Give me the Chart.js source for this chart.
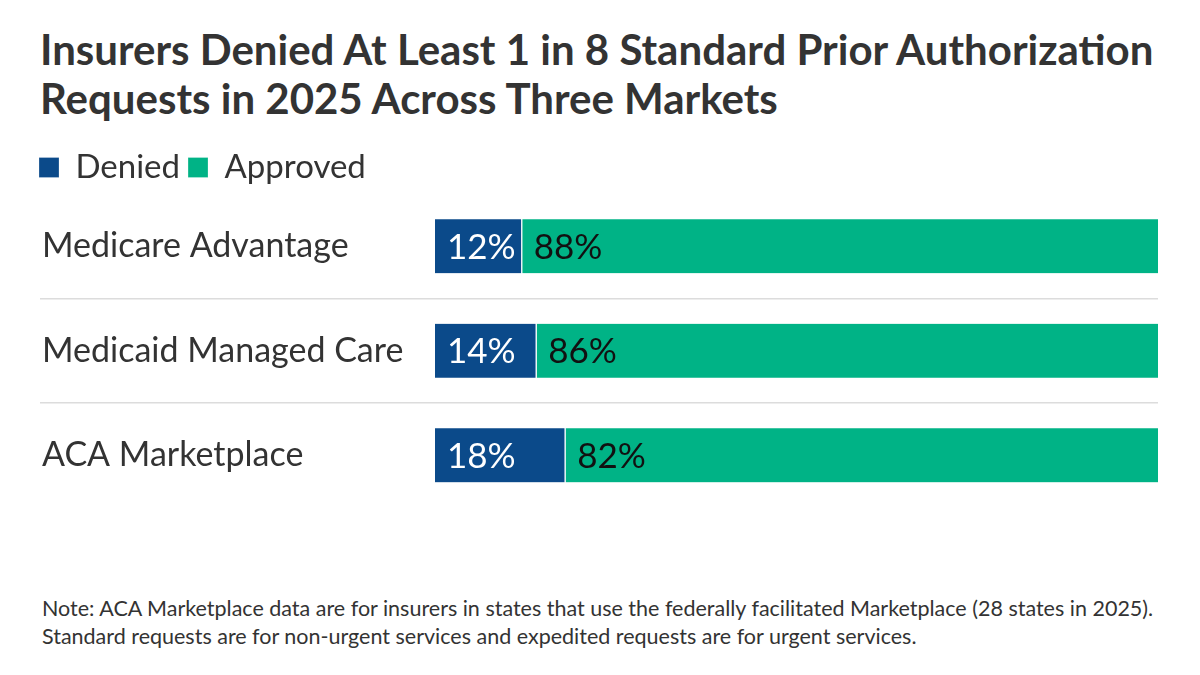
<!DOCTYPE html>
<html>
<head>
<meta charset="utf-8">
<script src="https://cdn.jsdelivr.net/npm/chart.js@4"></script>
<style>
  html, body { margin: 0; padding: 0; background: #fff; }
  body { width: 1200px; height: 675px; position: relative; overflow: hidden; font-family: Lato, sans-serif; color: #333; }
  #title { position: absolute; left: 40px; top: 25px; font-weight: 700; font-size: 42px; line-height: 49px; color: #333; white-space: nowrap; }
  #wrap { position: absolute; left: 0; top: 143px; width: 1200px; height: 388px; }
  #note { position: absolute; left: 42px; top: 594px; font-size: 21.5px; line-height: 28px; color: #333; white-space: nowrap; }
</style>
</head>
<body>
<div id="title">Insurers Denied At Least 1 in 8 Standard Prior Authorization<br>Requests in 2025 Across Three Markets</div>
<div id="wrap"><canvas id="c"></canvas></div>
<div id="note">Note: ACA Marketplace data are for insurers in states that use the federally facilitated Marketplace (28 states in 2025).<br>Standard requests are for non-urgent services and expedited requests are for urgent services.</div>
<script>
const categories = ["Medicare Advantage", "Medicaid Managed Care", "ACA Marketplace"];
const denied = [12, 14, 18];
const approved = [88, 86, 82];
const seriesNames = ["Denied", "Approved"];

const FONT = "Lato, sans-serif";

const barLabels = {
  id: 'barLabels',
  afterDatasetsDraw(chart) {
    const ctx = chart.ctx;
    ctx.save();
    ctx.font = "400 35px " + FONT;
    ctx.textBaseline = 'middle';
    ctx.textAlign = 'left';
    chart.data.datasets.forEach((ds, di) => {
      const meta = chart.getDatasetMeta(di);
      meta.data.forEach((bar, i) => {
        ctx.fillStyle = di === 0 ? '#ffffff' : '#111111';
        const left = Math.min(bar.x, bar.base);
        ctx.fillText(ds.data[i] + '%', left + 12, bar.y + 1);
      });
    });
    ctx.restore();
  }
};

const shiftY = {
  id: 'shiftY',
  afterLayout(chart) {
    chart.scales.y.left = 42;
  }
};

new Chart(document.getElementById('c'), {
  type: 'bar',
  data: {
    labels: categories,
    datasets: [
      {
        label: seriesNames[0], data: denied, backgroundColor: '#0b4a8a',
        borderColor: '#ffffff', borderWidth: {top: 0, bottom: 0, left: 0, right: 1}, borderSkipped: false
      },
      {
        label: seriesNames[1], data: approved, backgroundColor: '#00b386',
        borderColor: '#ffffff', borderWidth: {top: 0, bottom: 0, left: 1, right: 0}, borderSkipped: false
      }
    ]
  },
  options: {
    indexAxis: 'y',
    responsive: true,
    maintainAspectRatio: false,
    animation: false,
    barThickness: 54,
    layout: { padding: { left: 31, right: 42, top: 0, bottom: 0 } },
    plugins: {
      legend: {
        position: 'top',
        align: 'start',
        labels: {
          boxWidth: 20, boxHeight: 20, padding: 8,
          color: '#333', font: { family: FONT, size: 33 }
        }
      },
      tooltip: { enabled: false }
    },
    scales: {
      x: { stacked: true, min: 0, max: 100, display: false },
      y: {
        stacked: true,
        afterFit(scale) { scale.width = 404; },
        border: { display: false },
        grid: {
          offset: true,
          drawTicks: true,
          tickLength: 395,
          lineWidth: 1.5,
          color: (c) => (c.index === 1 || c.index === 2) ? '#dcdcdc' : 'rgba(0,0,0,0)'
        },
        ticks: {
          crossAlign: 'far',
          color: '#333',
          font: { family: FONT, size: 34 }
        }
      }
    }
  },
  plugins: [barLabels, shiftY]
});
</script>
</body>
</html>
